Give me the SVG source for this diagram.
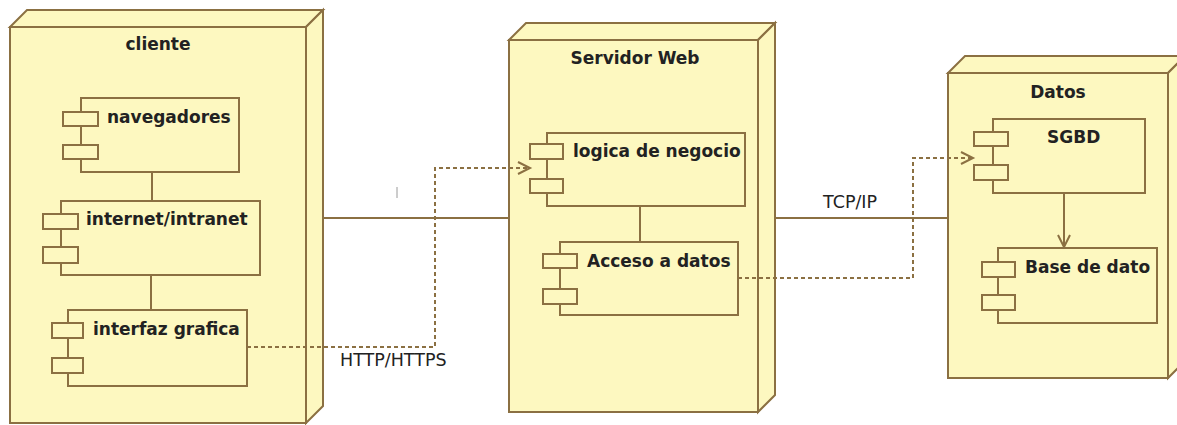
<svg xmlns="http://www.w3.org/2000/svg" width="1177" height="425" viewBox="0 0 1177 425">
<defs>
<style>
.face{fill:#FDF8C0;stroke:#8B7042;stroke-width:2;stroke-linejoin:miter}
.comp{fill:#FDF8C0;stroke:#8B7042;stroke-width:2}
.port{fill:#FDF8C0;stroke:#8B7042;stroke-width:2}
.title{font-family:"DejaVu Sans",sans-serif;font-weight:bold;font-size:17px;fill:#222;text-anchor:middle}
.lbl{font-family:"DejaVu Sans",sans-serif;font-weight:bold;font-size:17px;fill:#222}
.plain{font-family:"DejaVu Sans",sans-serif;font-size:17.5px;fill:#222}
.solid{stroke:#8B7042;stroke-width:2;fill:none}
.dash{stroke:#8B7042;stroke-width:2;fill:none;stroke-dasharray:4 3}
</style>
<marker id="open" markerWidth="16" markerHeight="16" refX="13" refY="7" orient="auto" markerUnits="userSpaceOnUse">
<path d="M1,1 L13,7 L1,13" fill="none" stroke="#8B7042" stroke-width="2"/>
</marker>
</defs>
<rect width="1177" height="425" fill="#ffffff"/>

<g id="node-cliente">
<polygon class="face" points="10,27 27,10 323,10 306,27"/>
<polygon class="face" points="306,27 323,10 323,406 306,423"/>
<rect class="face" x="10" y="27" width="296" height="396"/>
<text class="title" x="158" y="50">cliente</text>
</g>
<g id="node-servidor">
<polygon class="face" points="509,40 526,23 775,23 758,40"/>
<polygon class="face" points="758,40 775,23 775,395 758,412"/>
<rect class="face" x="509" y="40" width="249" height="372"/>
<text class="title" x="635" y="64">Servidor Web</text>
</g>
<g id="node-datos">
<polygon class="face" points="948,73 965,56 1185,56 1168,73"/>
<polygon class="face" points="1168,73 1185,56 1185,361 1168,378"/>
<rect class="face" x="948" y="73" width="220" height="305"/>
<text class="title" x="1058" y="98">Datos</text>
</g>

<g id="comp-navegadores">
<rect class="comp" x="81" y="98" width="158" height="74"/>
<rect class="port" x="63" y="112" width="35" height="14"/>
<rect class="port" x="63" y="145" width="35" height="14"/>
<text class="lbl" x="107" y="123">navegadores</text>
</g>
<g id="comp-internet">
<rect class="comp" x="61" y="201" width="199" height="74"/>
<rect class="port" x="43" y="214" width="35" height="15"/>
<rect class="port" x="43" y="247" width="35" height="16"/>
<text class="lbl" x="86" y="225">internet/intranet</text>
</g>
<g id="comp-interfaz">
<rect class="comp" x="68" y="310" width="179" height="76"/>
<rect class="port" x="52" y="323" width="31" height="15"/>
<rect class="port" x="52" y="358" width="31" height="15"/>
<text class="lbl" x="93" y="335">interfaz grafica</text>
</g>
<g id="comp-logica">
<rect class="comp" x="547" y="133" width="198" height="73"/>
<rect class="port" x="530" y="144" width="33" height="15"/>
<rect class="port" x="530" y="179" width="33" height="14"/>
<text class="lbl" x="573" y="157">logica de negocio</text>
</g>
<g id="comp-acceso">
<rect class="comp" x="560" y="242" width="178" height="73"/>
<rect class="port" x="543" y="254" width="34" height="14"/>
<rect class="port" x="543" y="289" width="34" height="15"/>
<text class="lbl" x="587" y="267">Acceso a datos</text>
</g>
<g id="comp-sgbd">
<rect class="comp" x="993" y="119" width="152" height="74"/>
<rect class="port" x="974" y="132" width="34" height="14"/>
<rect class="port" x="974" y="165" width="34" height="15"/>
<text class="lbl" x="1047" y="143">SGBD</text>
</g>
<g id="comp-base">
<rect class="comp" x="998" y="248" width="159" height="75"/>
<rect class="port" x="982" y="262" width="33" height="15"/>
<rect class="port" x="982" y="295" width="33" height="15"/>
<text class="lbl" x="1025" y="273">Base de dato</text>
</g>

<g id="connectors">
<line class="solid" x1="152" y1="172" x2="152" y2="201"/>
<line class="solid" x1="151" y1="275" x2="151" y2="310"/>
<line class="solid" x1="640" y1="206" x2="640" y2="242"/>
<line class="solid" x1="1064" y1="193" x2="1064" y2="247" marker-end="url(#open)"/>
<line class="solid" x1="323" y1="218" x2="509" y2="218"/>
<line class="solid" x1="775" y1="218" x2="948" y2="218"/>
<path class="dash" d="M247,347 H435 V168 H530" marker-end="url(#open)"/>
<path class="dash" d="M738,278 H913 V158 H973" marker-end="url(#open)"/>
<line x1="397" y1="187" x2="397" y2="198" stroke="#9a9a9a" stroke-width="1"/>
<text class="plain" x="340" y="366">HTTP/HTTPS</text>
<text class="plain" x="823" y="208">TCP/IP</text>
</g>
</svg>
